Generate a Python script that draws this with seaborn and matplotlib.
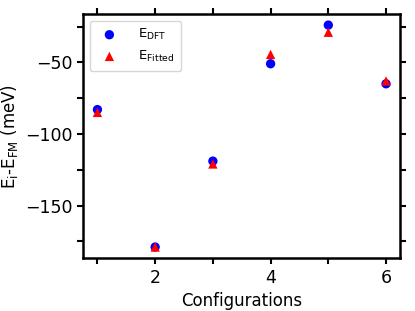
import numpy as np
import pandas as pd
import seaborn as sns
import matplotlib.pyplot as plt
from matplotlib.ticker import MultipleLocator

configs = [1, 2, 3, 4, 5, 6]
e_dft = [-83, -179, -119, -51, -24, -65]
e_fitted = [-85, -179, -121, -44.5, -29, -63]

sns.set_style("ticks")
plt.rcParams['font.family'] = ['DejaVu Sans']
plt.rcParams['mathtext.default'] = 'regular'
for k in ['text.color', 'axes.labelcolor', 'xtick.color', 'ytick.color', 'axes.edgecolor']:
    plt.rcParams[k] = 'black'

fig, ax = plt.subplots(figsize=(4.15, 3.11), dpi=100)

df = pd.DataFrame({"x": configs, "dft": e_dft, "fit": e_fitted})
sns.scatterplot(data=df, x="x", y="dft", color="blue", marker="o", s=45,
                edgecolor="none", label=r"E$_{DFT}$", ax=ax, zorder=2)
sns.scatterplot(data=df, x="x", y="fit", color="red", marker="^", s=45,
                edgecolor="none", label=r"E$_{Fitted}$", ax=ax, zorder=3)

ax.set_xlabel("Configurations", fontsize=12)
ax.set_ylabel(r"E$_i$-E$_{FM}$ (meV)", fontsize=12)
ax.xaxis.set_major_locator(MultipleLocator(2))
ax.xaxis.set_minor_locator(MultipleLocator(1))
ax.yaxis.set_major_locator(MultipleLocator(50))
ax.yaxis.set_minor_locator(MultipleLocator(25))
ax.tick_params(which="both", direction="out", length=4, width=1.5,
               top=True, right=True, labelsize=12.5)
for sp in ax.spines.values():
    sp.set_linewidth(1.8)

ax.legend(loc="upper left", fontsize=9.5, handletextpad=1.2, borderpad=0.5)
fig.subplots_adjust(left=0.2, right=0.965, top=0.955, bottom=0.17)
fig.savefig("out.png", dpi=100)
